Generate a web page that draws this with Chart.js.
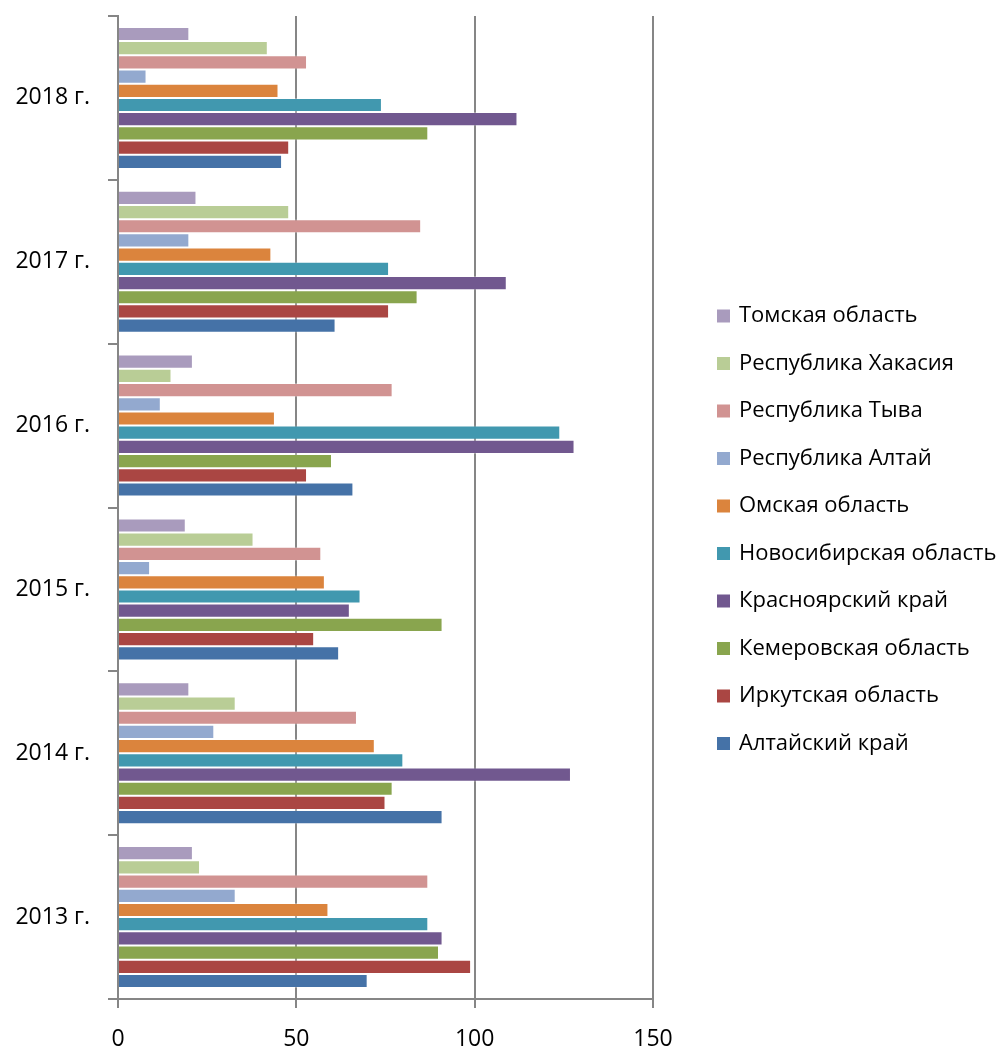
<!DOCTYPE html>
<html>
<head>
<meta charset="utf-8">
<title>Регионы Сибири, 2013–2018</title>
<script src="https://cdn.jsdelivr.net/npm/chart.js@4.4.0/dist/chart.umd.min.js"></script>
<style>
	html, body { margin: 0; padding: 0; background: #fff; }
	#chart-wrap { position: relative; width: 1000px; height: 1048px; }
</style>
</head>
<body>
<div id="chart-wrap"><canvas id="region-chart"></canvas></div>
<script>
// categories (bottom to top, as in the picture)
const years = ['2013 г.', '2014 г.', '2015 г.', '2016 г.', '2017 г.', '2018 г.'];

// series, values, one per year 2013..2018
const altaiKrai   = [70, 91, 62, 66, 61, 46];
const irkutsk     = [99, 75, 55, 53, 76, 48];
const kemerovo    = [90, 77, 91, 60, 84, 87];
const krasnoyarsk = [91, 127, 65, 128, 109, 112];
const novosibirsk = [87, 80, 68, 124, 76, 74];
const omsk        = [59, 72, 58, 44, 43, 45];
const altaiRep    = [33, 27, 9, 12, 20, 8];
const tyva        = [87, 67, 57, 77, 85, 53];
const khakassia   = [23, 33, 38, 15, 48, 42];
const tomsk       = [21, 20, 19, 21, 22, 20];

// listed top to bottom, the way the legend and each bar group read
const seriesNames = [
	'Томская область', 'Республика Хакасия', 'Республика Тыва', 'Республика Алтай',
	'Омская область', 'Новосибирская область', 'Красноярский край',
	'Кемеровская область', 'Иркутская область', 'Алтайский край'
];
const seriesValues = [tomsk, khakassia, tyva, altaiRep, omsk, novosibirsk,
	krasnoyarsk, kemerovo, irkutsk, altaiKrai];

// x axis
const xMin = 0;
const xMax = 150;
const xStep = 50;

// Excel 2007 palette, same order as seriesNames
const seriesColors = ['#A99BBD', '#B9CD96', '#D19392', '#93A9CF', '#DB843D',
	'#4198AF', '#71588F', '#89A54E', '#AA4643', '#4572A7'];

const axisGrey = '#868686';
const fontFamily = '"Open Sans", "Noto Sans", sans-serif';

// legend on the right, drawn from the datasets
const sideLegend = {
	id: 'sideLegend',
	afterDraw(chart, args, opts) {
		const ctx = chart.ctx;
		ctx.save();
		ctx.font = opts.font;
		ctx.textBaseline = 'middle';
		ctx.textAlign = 'left';
		chart.data.datasets.forEach(function (ds, i) {
			const cy = opts.top + i * opts.step;
			ctx.fillStyle = ds.backgroundColor;
			ctx.fillRect(opts.left, cy - opts.box / 2, opts.box, opts.box);
			ctx.fillStyle = opts.color;
			ctx.fillText(ds.label, opts.left + opts.textGap, cy);
		});
		ctx.restore();
	}
};

const datasets = seriesNames.map(function (name, i) {
	return {
		label: name,
		data: seriesValues[i],
		backgroundColor: seriesColors[i],
		borderColor: 'rgba(255,255,255,0.3)',
		borderWidth: 1,
		barPercentage: 1,
		categoryPercentage: 0.867
	};
});

const ctx = document.getElementById('region-chart').getContext('2d');
const chart = new Chart(ctx, {
	type: 'bar',
	plugins: [sideLegend],
	data: {
		labels: years,
		datasets: datasets
	},
	options: {
		indexAxis: 'y',
		responsive: true,
		maintainAspectRatio: false,
		animation: false,
		layout: {
			padding: { top: 16, right: 347, left: 0, bottom: 0 }
		},
		plugins: {
			legend: { display: false },
			tooltip: { enabled: false },
			sideLegend: {
				left: 717,
				top: 316,
				step: 47.5,
				box: 13,
				textGap: 22,
				font: '22px ' + fontFamily,
				color: '#000'
			}
		},
		scales: {
			x: {
				min: xMin,
				max: xMax,
				ticks: {
					stepSize: xStep,
					color: '#000',
					padding: 18,
					font: { family: fontFamily, size: 23 }
				},
				grid: {
					color: axisGrey,
					lineWidth: 2,
					tickLength: 9
				},
				border: { color: axisGrey, width: 2 },
				afterFit: function (scale) { scale.height = 49; }
			},
			y: {
				reverse: true,
				offset: true,
				ticks: {
					color: '#000',
					padding: 18,
					font: { family: fontFamily, size: 23 }
				},
				grid: {
					offset: true,
					drawOnChartArea: false,
					color: axisGrey,
					lineWidth: 2,
					tickLength: 10
				},
				border: { color: axisGrey, width: 2 },
				afterFit: function (scale) {
					scale.width = 118;
					// labels sit mid-band, no extra room needed above/below
					scale.paddingTop = 0;
					scale.paddingBottom = 0;
				}
			}
		}
	}
});
</script>
</body>
</html>
